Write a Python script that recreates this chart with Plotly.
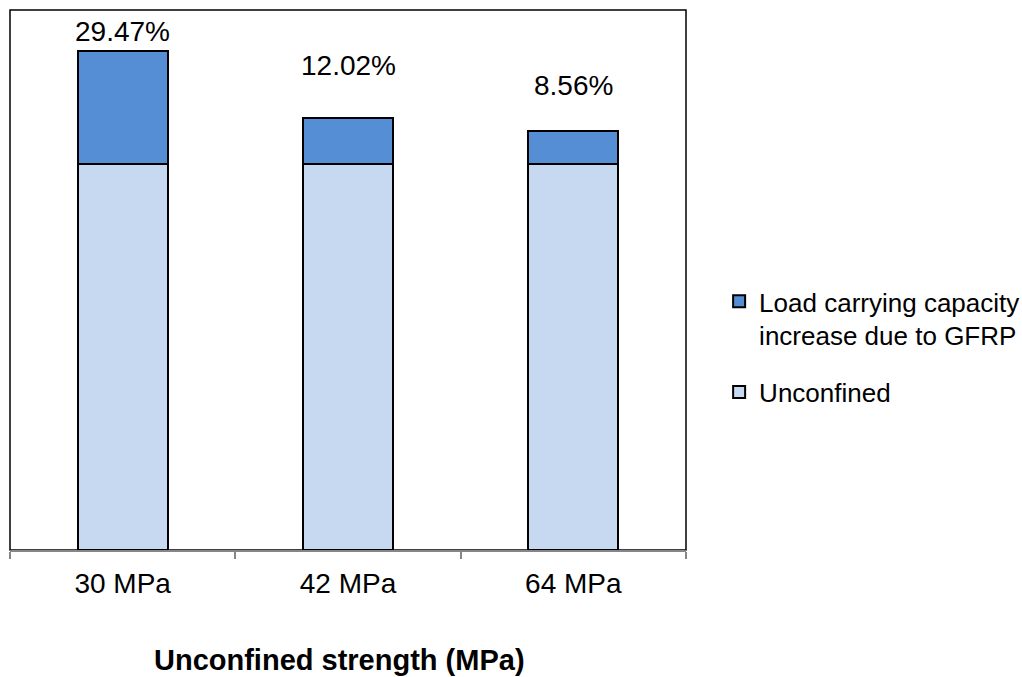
import plotly.graph_objects as go

categories = ["30 MPa", "42 MPa", "64 MPa"]
unconfined = [100, 100, 100]
increase = [29.47, 12.02, 8.56]
label_texts = ["29.47%", "12.02%", "8.56%"]
label_shift = [19, 52, 46]  # px above bar top (style)

FONT = "Liberation Sans, Arial, sans-serif"

fig = go.Figure()
fig.add_trace(go.Bar(
    x=categories, y=unconfined, name="Unconfined", legendgroup="a", legendrank=2,
    marker=dict(color="#C6D9F1", line=dict(color="#000000", width=2)),
))
fig.add_trace(go.Bar(
    x=categories, y=increase, name="Load carrying capacity<br>increase due to GFRP",
    legendgroup="b", legendrank=1,
    marker=dict(color="#558ED5", line=dict(color="#000000", width=2)),
))

for c, u, inc, t, s in zip(categories, unconfined, increase, label_texts, label_shift):
    fig.add_annotation(x=c, y=u + inc, text=t, showarrow=False, yanchor="middle",
                       yshift=s, font=dict(family=FONT, size=28, color="#000000"))

fig.add_annotation(xref="paper", yref="paper", x=0.488, y=-0.2037, text="<b>Unconfined strength (MPa)</b>",
                   showarrow=False, xanchor="center", yanchor="middle",
                   font=dict(family=FONT, size=29, color="#000000"))

fig.add_shape(type="rect", xref="paper", yref="paper", x0=0, y0=0, x1=1, y1=1,
              line=dict(color="#000000", width=1.5), layer="below")

fig.update_layout(
    width=1022, height=677,
    margin=dict(l=10, r=336, t=10, b=127, autoexpand=False),
    barmode="stack", bargap=0.6,
    paper_bgcolor="white", plot_bgcolor="white",
    font=dict(family=FONT, size=28, color="#000000"),
    showlegend=True,
    legend=dict(x=1.049, xanchor="left", y=0.376, yanchor="middle", traceorder="grouped",
                valign="top",
                font=dict(family=FONT, size=26, color="#000000"), itemwidth=30,
                tracegroupgap=20, bgcolor="rgba(0,0,0,0)"),
    xaxis=dict(showline=True, linecolor="#868686", linewidth=1.5, ticks="outside",
               tickson="boundaries", ticklen=7, tickcolor="#868686", tickwidth=1.5,
               ticklabelstandoff=8,
               showgrid=False, tickfont=dict(family=FONT, size=28, color="#000000")),
    yaxis=dict(range=[0, 140], showticklabels=False, showgrid=False, zeroline=False,
               showline=False, ticks=""),
)

fig.write_html("out.html")
